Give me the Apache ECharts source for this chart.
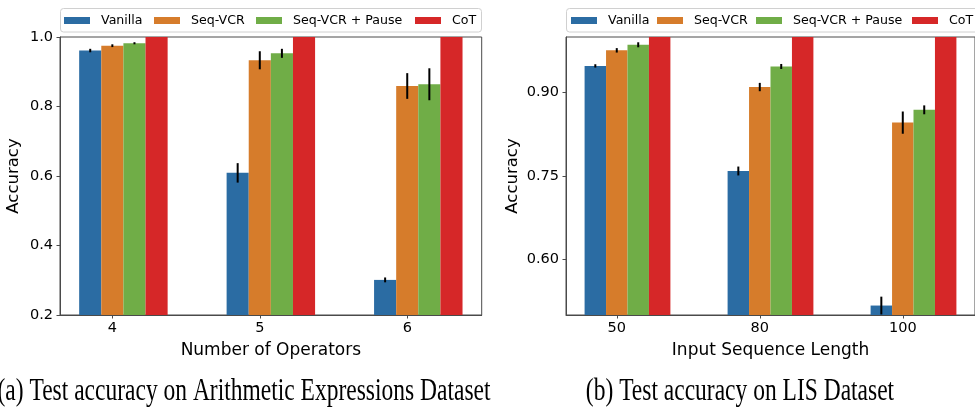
<!DOCTYPE html>
<html>
<head>
<meta charset="utf-8">
<script src="https://cdn.jsdelivr.net/npm/echarts@6/dist/echarts.min.js"></script>
<style>
html,body{margin:0;padding:0;background:#fff;}
#chart{width:975px;height:408px;}
</style>
</head>
<body>
<div id="chart"></div>
<script>
// ---- data ----
const seriesNames = ['Vanilla', 'Seq-VCR', 'Seq-VCR + Pause', 'CoT'];
const operatorCats = ['4', '5', '6'];
const lengthCats = ['50', '80', '100'];

const arithVanilla = [0.961, 0.609, 0.301];
const arithVanillaErr = [0.005, 0.028, 0.007];
const arithSeqVCR = [0.975, 0.933, 0.859];
const arithSeqVCRErr = [0.004, 0.026, 0.037];
const arithPause = [0.982, 0.953, 0.864];
const arithPauseErr = [0.003, 0.013, 0.046];
const arithCoT = [1.0, 1.0, 1.0];
const arithCoTErr = [0, 0, 0];

const lisVanilla = [0.948, 0.759, 0.517];
const lisVanillaErr = [0.003, 0.008, 0.016];
const lisSeqVCR = [0.976, 0.910, 0.846];
const lisSeqVCRErr = [0.004, 0.0075, 0.020];
const lisPause = [0.986, 0.947, 0.869];
const lisPauseErr = [0.0045, 0.0045, 0.008];
const lisCoT = [1.0, 1.0, 1.0];
const lisCoTErr = [0, 0, 0];

const arithYTicks = [0.2, 0.4, 0.6, 0.8, 1.0];
const lisYTicks = [0.60, 0.75, 0.90];

const captionA = '(a) Test accuracy on Arithmetic Expressions Dataset';
const captionB = '(b) Test accuracy on LIS Dataset';

// ---- style ----
const colors = ['#2b6ca3', '#d67c2b', '#70ad47', '#d62728'];
const offsets = [-0.15, 0, 0.15, 0.30];
const barW = 0.15;
const sans = 'DejaVu Sans';
const frameColor = '#4a4a4a';

function barRender(si) {
  return function (params, api) {
    const x = api.value(0), v = api.value(1), e = api.value(2);
    const cs = params.coordSys;
    const bottom = cs.y + cs.height;
    const p1 = api.coord([x + offsets[si] - barW / 2, v]);
    const p2 = api.coord([x + offsets[si] + barW / 2, v]);
    const children = [{
      type: 'rect',
      shape: { x: p1[0], y: p1[1], width: p2[0] - p1[0], height: bottom - p1[1] },
      style: { fill: colors[si] }
    }];
    if (e > 0) {
      const a = api.coord([x + offsets[si], v - e]);
      const b = api.coord([x + offsets[si], v + e]);
      children.push({
        type: 'line',
        shape: { x1: a[0], y1: a[1], x2: b[0], y2: b[1] },
        style: { stroke: '#000', lineWidth: 2 },
        z2: 10
      });
    }
    return { type: 'group', children: children };
  };
}

function mk(vals, errs) { return vals.map((v, i) => [i, v, errs[i]]); }

const arithSets = [[arithVanilla, arithVanillaErr], [arithSeqVCR, arithSeqVCRErr], [arithPause, arithPauseErr], [arithCoT, arithCoTErr]];
const lisSets = [[lisVanilla, lisVanillaErr], [lisSeqVCR, lisSeqVCRErr], [lisPause, lisPauseErr], [lisCoT, lisCoTErr]];

const series = [];
[arithSets, lisSets].forEach((sets, g) => {
  sets.forEach((s, si) => {
    series.push({
      type: 'custom',
      name: seriesNames[si],
      xAxisIndex: g, yAxisIndex: g,
      clip: true,
      itemStyle: { color: colors[si] },
      renderItem: barRender(si),
      encode: { x: 0, y: 1 },
      data: mk(s[0], s[1])
    });
  });
});

function xAxisDef(g, cats, name) {
  return {
    type: 'value', gridIndex: g, min: -0.355, max: 2.505,
    name: name, nameLocation: 'middle', nameGap: 27,
    nameTextStyle: { fontFamily: sans, fontSize: 17, color: '#000' },
    axisLine: { show: true, onZero: false, lineStyle: { color: frameColor, width: 1 } },
    axisTick: { show: true, length: 3.5, customValues: [0, 1, 2], lineStyle: { color: frameColor } },
    axisLabel: { customValues: [0, 1, 2], margin: 6, fontFamily: sans, fontSize: 14.5, color: '#000',
      formatter: v => cats[Math.round(v)] },
    splitLine: { show: false }
  };
}
function yAxisDef(g, min, max, ticks, digits, gap) {
  return {
    type: 'value', gridIndex: g, min: min, max: max,
    name: 'Accuracy', nameLocation: 'middle', nameGap: gap,
    nameTextStyle: { fontFamily: sans, fontSize: 16.5, color: '#000' },
    axisLine: { show: true, onZero: false, lineStyle: { color: frameColor, width: 1 } },
    axisTick: { show: true, length: 3.5, customValues: ticks, lineStyle: { color: frameColor } },
    axisLabel: { customValues: ticks, margin: 7, fontFamily: sans, fontSize: 14.5, color: '#000',
      formatter: v => v.toFixed(digits) },
    splitLine: { show: false }
  };
}

const legendXs = [[64, 154, 256, 415], [571, 657, 756, 912]];
const legends = [];
legendXs.forEach(row => {
  row.forEach((lx, i) => {
    legends.push({
      left: lx, top: 14, padding: 0, z: 10,
      itemWidth: 26, itemHeight: 7, icon: 'rect',
      textStyle: { fontFamily: sans, fontSize: 12.6, color: '#000', padding: [0, 0, 0, 6] },
      data: [seriesNames[i]],
      selectedMode: false
    });
  });
});

const option = {
  animation: false,
  backgroundColor: '#fff',
  grid: [
    { left: 60, top: 37, width: 421.7, height: 278, show: true, borderColor: frameColor, borderWidth: 1, backgroundColor: 'transparent' },
    { left: 566, top: 37, width: 411.5, height: 278, show: true, borderColor: frameColor, borderWidth: 1, backgroundColor: 'transparent' }
  ],
  xAxis: [xAxisDef(0, operatorCats, 'Number of Operators'), xAxisDef(1, lengthCats, 'Input Sequence Length')],
  yAxis: [yAxisDef(0, 0.2, 1.0, arithYTicks, 1, 38), yAxisDef(1, 0.5, 1.0, lisYTicks, 2, 45)],
  legend: legends,
  graphic: [
    { type: 'rect', z: 1, shape: { x: 60.5, y: 8.5, width: 421, height: 23.5, r: 3 }, style: { fill: '#fff', stroke: '#d0d0d0', lineWidth: 1 } },
    { type: 'rect', z: 1, shape: { x: 566.5, y: 8.5, width: 420, height: 23.5, r: 3 }, style: { fill: '#fff', stroke: '#d0d0d0', lineWidth: 1 } },
    { type: 'text', z: 1, x: 244, y: 392, scaleY: 1.3, style: { text: captionA, font: '23.5px "Liberation Serif"', fill: '#000', textAlign: 'center', textVerticalAlign: 'middle' } },
    { type: 'text', z: 1, x: 740, y: 392, scaleY: 1.3, style: { text: captionB, font: '23.5px "Liberation Serif"', fill: '#000', textAlign: 'center', textVerticalAlign: 'middle' } }
  ],
  series: series
};

const chart = echarts.init(document.getElementById('chart'), null, { renderer: 'canvas' });
chart.setOption(option);
</script>
</body>
</html>
